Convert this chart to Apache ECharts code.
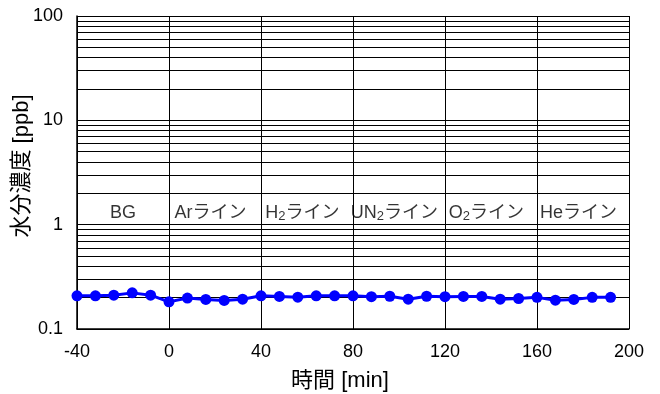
<!DOCTYPE html>
<html>
<head>
<meta charset="utf-8">
<script src="https://cdn.jsdelivr.net/npm/echarts@6/dist/echarts.min.js"></script>
<style>
html,body{margin:0;padding:0;background:#fff;}
#c{width:660px;height:394px;}
</style>
</head>
<body>
<div id="c"></div>
<script>
// Time [min]
var times = [-40,-32,-24,-16,-8,0,8,16,24,32,40,48,56,64,72,80,88,96,104,112,120,128,136,144,152,160,168,176,184,192];
// Moisture concentration [ppb]
var moisture = [0.208,0.208,0.211,0.222,0.211,0.182,0.198,0.192,0.188,0.193,0.208,0.205,0.202,0.208,0.208,0.208,0.204,0.206,0.193,0.206,0.204,0.205,0.205,0.193,0.196,0.201,0.189,0.192,0.201,0.201];
// Segment annotation labels ({x} = subscript)
var segmentLabels = ['BG','Arライン','H{2}ライン','UN{2}ライン','O{2}ライン','Heライン'];
var segmentX = [-20,18,58,98,138,178];
var segmentY = 1.3;
// Minor log gridlines
var minorGrid = [0.2,0.3,0.4,0.5,0.6,0.7,0.8,0.9,2,3,4,5,6,7,8,9,20,30,40,50,60,70,80,90];
var xTicks = {min:-40, max:200, interval:40};
var yRange = {min:0.1, max:100};

var fontLatin = 'Arial, "Liberation Sans", "Noto Sans CJK JP", sans-serif';

function toRich(s){
  var out = '';
  var parts = s.split(/(\{[^}]*\})/);
  parts.forEach(function(p){
    if(!p) return;
    if(p.charAt(0)==='{') out += '{s|' + p.slice(1,-1) + '}';
    else out += '{n|' + p + '}';
  });
  return out;
}

var chart = echarts.init(document.getElementById('c'), null, {renderer:'canvas'});
var labelData = segmentX.map(function(x,i){ return {value:[x, segmentY], name: segmentLabels[i]}; });

chart.setOption({
  animation:false,
  backgroundColor:'#fff',
  grid:{left:77, right:31, top:16, bottom:65, containLabel:false, outerBoundsMode:'none'},
  xAxis:{
    type:'value', min:xTicks.min, max:xTicks.max, interval:xTicks.interval,
    axisLine:{show:true, onZero:false, lineStyle:{color:'#000', width:1.5}},
    axisTick:{show:false},
    axisLabel:{color:'#000', fontSize:18, fontFamily:fontLatin, margin:14},
    splitLine:{show:true, lineStyle:{color:'#000', width:1}},
    name:'時間 [min]', nameLocation:'middle', nameGap:41, nameMoveOverlap:false,
    nameTextStyle:{color:'#000', fontSize:22, fontFamily:fontLatin, padding:[0,26,0,0]}
  },
  yAxis:{
    type:'log', logBase:10, min:yRange.min, max:yRange.max,
    axisLine:{show:true, onZero:false, lineStyle:{color:'#000', width:1.5}},
    axisTick:{show:false},
    axisLabel:{color:'#000', fontSize:18, fontFamily:fontLatin, margin:14},
    splitLine:{show:true, lineStyle:{color:'#000', width:1}},
    minorTick:{show:false}, minorSplitLine:{show:false},
    name:'水分濃度 [ppb]', nameLocation:'middle', nameGap:44, nameRotate:90, nameMoveOverlap:false,
    nameTextStyle:{color:'#000', fontSize:22, fontFamily:fontLatin, padding:[0,0,0,13]}
  },
  series:[
    {
      type:'line', data: times.map(function(t,i){return [t, moisture[i]];}),
      symbol:'circle', symbolSize:11, showSymbol:true,
      lineStyle:{color:'#0000FF', width:3},
      itemStyle:{color:'#0000FF'},
      z:5,
      markLine:{
        silent:true, symbol:'none', label:{show:false},
        lineStyle:{color:'#000', width:1, type:'solid'},
        data: minorGrid.map(function(v){return {yAxis:v};}),
        z:1
      }
    },
    {
      type:'scatter', data: labelData, symbolSize:0, silent:true,
      label:{
        show:true, position:'inside',
        formatter:function(p){return toRich(p.name);},
        rich:{
          n:{fontSize:18, lineHeight:20, color:'#000', fontFamily:fontLatin},
          s:{fontSize:13, lineHeight:13, color:'#000', fontFamily:fontLatin, verticalAlign:'bottom', padding:[8,0,0,0]}
        }
      }
    }
  ]
});
</script>
</body>
</html>
